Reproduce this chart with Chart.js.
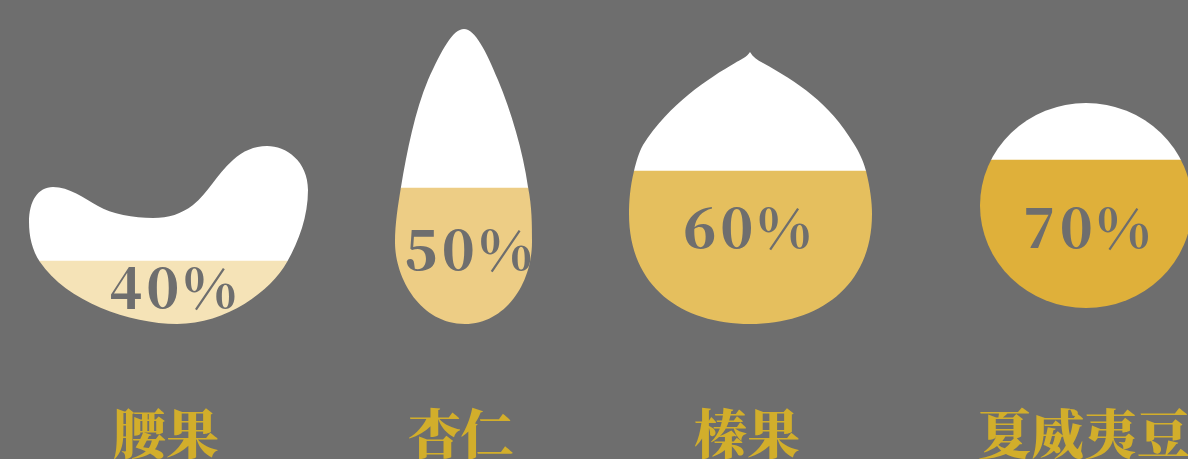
<!DOCTYPE html>
<html lang="zh">
<head>
<meta charset="utf-8">
<title>坚果</title>
<script src="https://cdn.jsdelivr.net/npm/chart.js@4/dist/chart.umd.min.js"></script>
<style>
  html, body { margin: 0; padding: 0; background: #6e6e6e; overflow: hidden; }
  canvas { display: block; }
</style>
</head>
<body>
<canvas id="nuts" width="1188" height="459"></canvas>
<script>
// Nut categories and the share of each one
const categories = ['腰果', '杏仁', '榛果', '夏威夷豆'];
const shares = [40, 50, 60, 70];
const fillColors = ['#f5e3b7', '#edcd85', '#e5bf5e', '#dfb03a'];
const tickValues = [166, 461, 747, 1084];

const PLOT_HEIGHT = 390;
const TEXT_GREY = '#6e6e6e';
const LABEL_GOLD = '#d2ae2b';
const SERIF = "'Noto Serif CJK SC', 'Noto Sans CJK SC', serif";

// Outlines are local to the nut: x from its tick, y down from value 100 on its own axis
const outlines = [
  'M-137 76C-137 55-128 41-113 41C-97 41-82 52-68 60C-55 68-32 72-13 72C3 72 15 68 27 59C42 47 50 29 67 14C77 5 88 0 101 0C120 0 142 15 142 44C142 70 133 95 121 116C105 145 60 178 11 178C-36 178-100 155-126 116C-134 104-137 90-137 76Z',
  'M3 0C-8 0-19 20-33 51C-46 82-54 122-60 158C-63 176-66 195-66 213C-66 250-40 295 4 295C44 295 71 255 71 213C71 195 71 178 67 158C62 122 50 82 37 51C25 22 14 0 3 0Z',
  'M3 0C0 5-7 8-12 11C-38 26-78 52-104 93C-108 100-111 110-113 119C-117 135-118 150-118 162C-118 235-65 272 3 272C71 272 125 235 125 162C125 150 123 135 119 119C116 108 112 100 107 92C82 50 50 30 16 11C10 8 6 5 3 0Z',
  'M-104 108.9A106 102.5 0 0 1 108 108.9A106 102.5 0 0 1-104 108.9Z'
];

// Where each percentage sits relative to the outline origin
const labelOffsets = [[9, 162], [9.5, 240.6], [2, 196], [4.5, 151.4]];

// Pixel heights of value 100 and value 0 on each nut's axis
const axisAnchors = [[146, 337.7], [29, 347], [52, 349.5], [96.6, 308]];

function axisRange([top, zero]) {
  const k = (zero - top) / 100;
  return { min: (zero - PLOT_HEIGHT) / k, max: zero / k };
}

const scales = {
  x: {
    type: 'linear',
    stacked: true,
    offset: false,
    min: 0,
    max: 1188,
    grid: { display: false, drawTicks: false, offset: false },
    border: { display: false },
    afterBuildTicks: (s) => { s.ticks = tickValues.map((value) => ({ value })); },
    afterFit: (s) => {
      s.height = 459 - PLOT_HEIGHT;
      s.paddingLeft = 0;
      s.paddingRight = 0;
    },
    ticks: {
      autoSkip: false,
      maxRotation: 0,
      minRotation: 0,
      padding: 12,
      color: LABEL_GOLD,
      font: { family: SERIF, size: 53, weight: '900' },
      callback: (v) => categories[tickValues.indexOf(v)] ?? ''
    }
  }
};
categories.forEach((_, i) => {
  scales['y' + i] = { display: false, stacked: true, ...axisRange(axisAnchors[i]) };
});

// One filled and one white bar per nut, on the nut's own axis
const datasets = [];
categories.forEach((name, i) => {
  datasets.push({
    label: name,
    nut: i,
    yAxisID: 'y' + i,
    barThickness: 300,
    data: [{ x: tickValues[i], y: shares[i] }],
    backgroundColor: fillColors[i]
  });
  datasets.push({
    label: name + ' 余量',
    nut: i,
    yAxisID: 'y' + i,
    barThickness: 300,
    data: [{ x: tickValues[i], y: 100 - shares[i] }],
    backgroundColor: '#ffffff'
  });
});

function outlineOrigin(chart, i) {
  return [chart.scales.x.getPixelForValue(tickValues[i]), chart.scales['y' + i].getPixelForValue(100)];
}

// Masks each bar with its nut outline and prints the percentages on top
const nutMask = {
  id: 'nutMask',
  beforeDatasetDraw(chart, args) {
    const i = chart.data.datasets[args.index].nut;
    const [ox, oy] = outlineOrigin(chart, i);
    const path = new Path2D();
    path.addPath(new Path2D(outlines[i]), new DOMMatrix().translate(ox, oy));
    chart.ctx.save();
    chart.ctx.clip(path);
  },
  afterDatasetDraw(chart) {
    chart.ctx.restore();
  },
  afterDatasetsDraw(chart) {
    const { ctx } = chart;
    ctx.save();
    ctx.font = `900 54px ${SERIF}`;
    ctx.fillStyle = TEXT_GREY;
    ctx.textAlign = 'center';
    ctx.textBaseline = 'alphabetic';
    ctx.letterSpacing = '4px';
    shares.forEach((v, i) => {
      const [ox, oy] = outlineOrigin(chart, i);
      ctx.fillText(v + '%', ox + labelOffsets[i][0], oy + labelOffsets[i][1]);
    });
    ctx.restore();
  }
};

new Chart(document.getElementById('nuts'), {
  type: 'bar',
  data: { datasets },
  plugins: [nutMask],
  options: {
    responsive: false,
    animation: false,
    layout: { padding: 0 },
    scales,
    plugins: { legend: { display: false }, tooltip: { enabled: false } }
  }
});
</script>
</body>
</html>
